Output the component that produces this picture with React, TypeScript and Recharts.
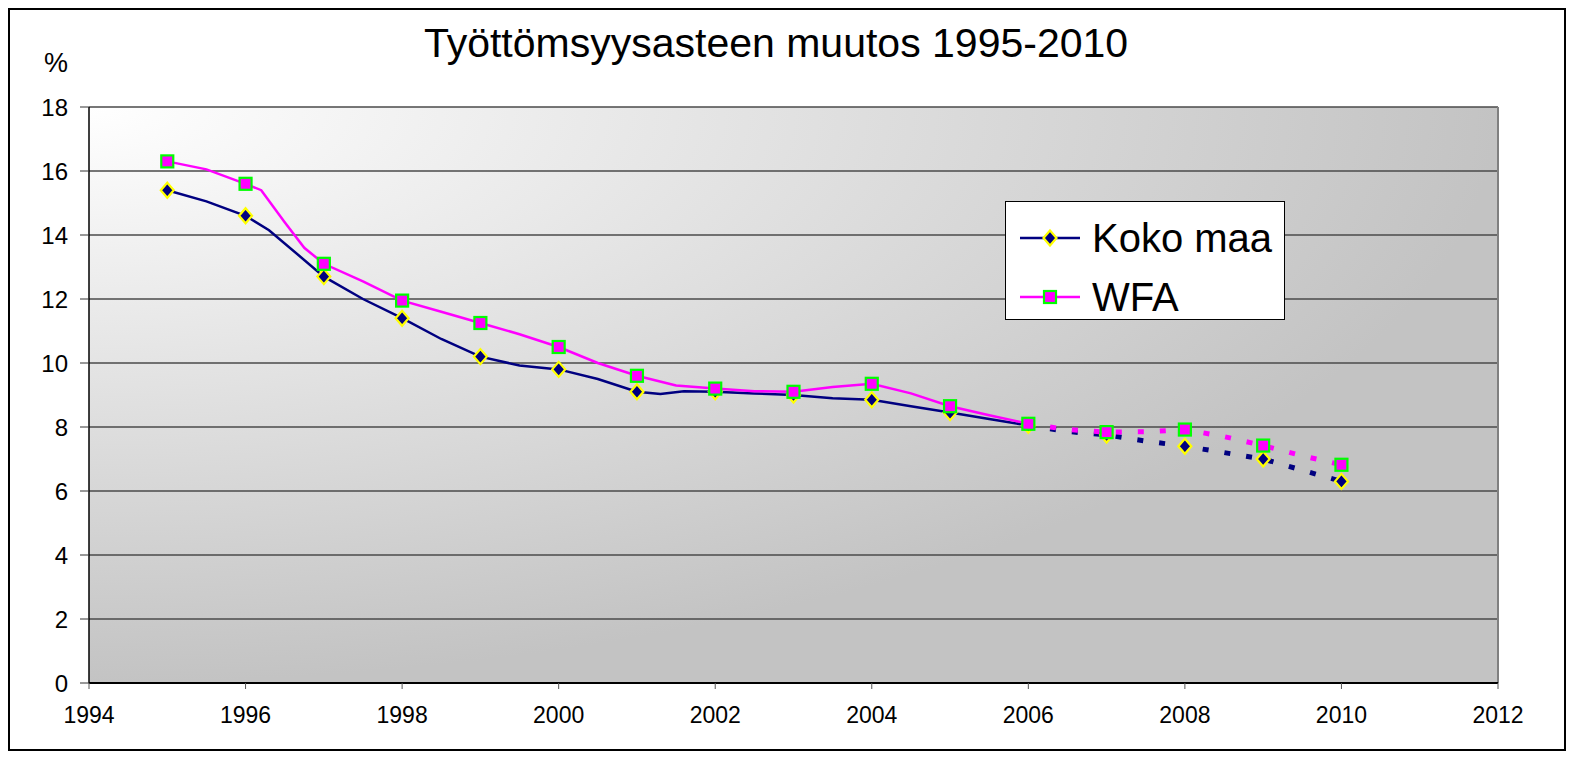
import React from "react";
import {
  ComposedChart,
  Line,
  Scatter,
  XAxis,
  YAxis,
  CartesianGrid,
  ReferenceLine,
} from "recharts";

const FONT = '"Liberation Sans", Arial, sans-serif';

// x ticks / y ticks
const yearTicks = [1994, 1996, 1998, 2000, 2002, 2004, 2006, 2008, 2010, 2012];
const pctTicks = [0, 2, 4, 6, 8, 10, 12, 14, 16, 18];

// Koko maa: half-year line points (solid up to 2006, dotted forecast after)
const kokoSolid = [
  { x: 1995, y: 15.4 }, { x: 1995.5, y: 15.05 }, { x: 1996, y: 14.6 },
  { x: 1996.3, y: 14.15 }, { x: 1997, y: 12.7 }, { x: 1997.5, y: 12.0 },
  { x: 1998, y: 11.4 }, { x: 1998.5, y: 10.75 }, { x: 1999, y: 10.2 },
  { x: 1999.5, y: 9.92 }, { x: 2000, y: 9.8 }, { x: 2000.5, y: 9.5 },
  { x: 2001, y: 9.1 }, { x: 2001.3, y: 9.03 }, { x: 2001.6, y: 9.12 },
  { x: 2002, y: 9.1 }, { x: 2002.5, y: 9.05 }, { x: 2003, y: 9.0 },
  { x: 2003.5, y: 8.9 }, { x: 2004, y: 8.85 }, { x: 2004.5, y: 8.65 },
  { x: 2005, y: 8.45 }, { x: 2005.5, y: 8.25 }, { x: 2006, y: 8.05 },
];
const kokoDash = [
  { x: 2006, y: 8.05 }, { x: 2006.5, y: 7.86 }, { x: 2007, y: 7.75 },
  { x: 2007.5, y: 7.56 }, { x: 2008, y: 7.4 }, { x: 2008.5, y: 7.2 },
  { x: 2009, y: 7.0 }, { x: 2009.5, y: 6.65 }, { x: 2010, y: 6.3 },
];
const kokoYears = [
  { x: 1995, y: 15.4 }, { x: 1996, y: 14.6 }, { x: 1997, y: 12.7 },
  { x: 1998, y: 11.4 }, { x: 1999, y: 10.2 }, { x: 2000, y: 9.8 },
  { x: 2001, y: 9.1 }, { x: 2002, y: 9.1 }, { x: 2003, y: 9.0 },
  { x: 2004, y: 8.85 }, { x: 2005, y: 8.45 }, { x: 2006, y: 8.05 },
  { x: 2007, y: 7.75 }, { x: 2008, y: 7.4 }, { x: 2009, y: 7.0 },
  { x: 2010, y: 6.3 },
];

// WFA
const wfaSolid = [
  { x: 1995, y: 16.3 }, { x: 1995.5, y: 16.05 }, { x: 1996, y: 15.6 },
  { x: 1996.2, y: 15.4 }, { x: 1996.5, y: 14.4 }, { x: 1996.75, y: 13.6 },
  { x: 1997, y: 13.1 }, { x: 1997.5, y: 12.55 }, { x: 1998, y: 11.95 },
  { x: 1998.5, y: 11.6 }, { x: 1999, y: 11.25 }, { x: 1999.5, y: 10.9 },
  { x: 2000, y: 10.5 }, { x: 2000.5, y: 10.0 }, { x: 2001, y: 9.6 },
  { x: 2001.5, y: 9.3 }, { x: 2002, y: 9.2 }, { x: 2002.5, y: 9.12 },
  { x: 2003, y: 9.1 }, { x: 2003.5, y: 9.25 }, { x: 2004, y: 9.35 },
  { x: 2004.5, y: 9.05 }, { x: 2005, y: 8.65 }, { x: 2005.5, y: 8.37 },
  { x: 2006, y: 8.1 },
];
const wfaDash = [
  { x: 2006, y: 8.1 }, { x: 2006.5, y: 7.92 }, { x: 2007, y: 7.84 },
  { x: 2007.5, y: 7.85 }, { x: 2008, y: 7.92 }, { x: 2008.5, y: 7.7 },
  { x: 2009, y: 7.42 }, { x: 2009.5, y: 7.1 }, { x: 2010, y: 6.82 },
];
const wfaYears = [
  { x: 1995, y: 16.3 }, { x: 1996, y: 15.6 }, { x: 1997, y: 13.1 },
  { x: 1998, y: 11.95 }, { x: 1999, y: 11.25 }, { x: 2000, y: 10.5 },
  { x: 2001, y: 9.6 }, { x: 2002, y: 9.2 }, { x: 2003, y: 9.1 },
  { x: 2004, y: 9.35 }, { x: 2005, y: 8.65 }, { x: 2006, y: 8.1 },
  { x: 2007, y: 7.84 }, { x: 2008, y: 7.92 }, { x: 2009, y: 7.42 },
  { x: 2010, y: 6.82 },
];

const seriesNames = ["Koko maa", "WFA"];

const NAVY = "#000080";
const MAGENTA = "#FF00FF";

const Diamond = (p: any) => {
  const { cx, cy } = p;
  if (cx == null || cy == null) return null;
  return (
    <path
      d={`M${cx},${cy - 7.5} L${cx + 6.5},${cy} L${cx},${cy + 7.5} L${cx - 6.5},${cy} Z`}
      fill={NAVY}
      stroke="#FFFF00"
      strokeWidth={2.2}
    />
  );
};

const Square = (p: any) => {
  const { cx, cy } = p;
  if (cx == null || cy == null) return null;
  return (
    <rect x={cx - 6} y={cy - 6} width={12} height={12} fill={MAGENTA} stroke="#00FF00" strokeWidth={2.2} />
  );
};

const LegendBox = () => (
  <div
    style={{
      position: "absolute",
      left: 995,
      top: 191,
      width: 280,
      height: 119,
      background: "#fff",
      border: "1px solid #000",
      boxSizing: "border-box",
      fontFamily: FONT,
      fontSize: 40,
      color: "#000",
    }}
  >
    {seriesNames.map((name, i) => (
      <div
        key={name}
        style={{ position: "absolute", left: 0, top: i === 0 ? 14 : 73, height: 44, display: "flex", alignItems: "center" }}
      >
        <svg width={86} height={44} style={{ display: "block" }}>
          <line x1={14} x2={74} y1={22} y2={22} stroke={i === 0 ? NAVY : MAGENTA} strokeWidth={2.5} />
          {i === 0 ? <Diamond cx={44} cy={22} /> : <Square cx={44} cy={22} />}
        </svg>
        <span style={{ lineHeight: 1 }}>{name}</span>
      </div>
    ))}
  </div>
);

export default function App() {
  return (
    <div
      style={{
        position: "relative",
        width: 1558,
        height: 743,
        border: "2px solid #000",
        boxSizing: "border-box",
        background: "#fff",
        fontFamily: FONT,
      }}
    >
      <div
        style={{
          position: "absolute",
          left: 0,
          width: 1532,
          top: 13,
          textAlign: "center",
          fontSize: 41,
          lineHeight: 1,
          color: "#000",
        }}
      >
        Työttömsyysasteen muutos 1995-2010
      </div>
      <div style={{ position: "absolute", left: 34, top: 40, fontSize: 27, lineHeight: 1, color: "#000" }}>%</div>
      <ComposedChart width={1554} height={739} margin={{ top: 97, right: 66, left: 0, bottom: 0 }}>
        <defs>
          <radialGradient id="plotBg" cx="0" cy="0" r="1" fx="0" fy="0">
            <stop offset="0%" stopColor="#FFFFFF" />
            <stop offset="100%" stopColor="#C3C3C3" />
          </radialGradient>
        </defs>
        <CartesianGrid vertical={false} stroke="#4a4a4a" strokeWidth={1.5} fill="url(#plotBg)" fillOpacity={1} />
        <XAxis
          type="number"
          dataKey="x"
          domain={[1994, 2012]}
          ticks={yearTicks}
          interval={0}
          height={66}
          tickSize={6}
          tickMargin={18}
          axisLine={{ stroke: "#000", strokeWidth: 2 }}
          tickLine={{ stroke: "#555" }}
          tick={{ fill: "#000", fontSize: 23, fontFamily: FONT }}
          allowDataOverflow
        />
        <YAxis
          type="number"
          domain={[0, 18]}
          ticks={pctTicks}
          interval={0}
          width={79}
          tickSize={9}
          tickMargin={12}
          axisLine={{ stroke: "#000", strokeWidth: 1.5 }}
          tickLine={{ stroke: "#333" }}
          tick={{ fill: "#000", fontSize: 24, fontFamily: FONT }}
        />
        <ReferenceLine x={2012} stroke="#808080" strokeWidth={2} />
        <Line data={kokoSolid} dataKey="y" type="linear" stroke={NAVY} strokeWidth={2.5} dot={false} isAnimationActive={false} legendType="none" />
        <Line data={wfaSolid} dataKey="y" type="linear" stroke={MAGENTA} strokeWidth={2.5} dot={false} isAnimationActive={false} legendType="none" />
        <Line data={kokoDash} dataKey="y" type="linear" stroke={NAVY} strokeWidth={5} strokeDasharray="6 16" dot={false} isAnimationActive={false} legendType="none" />
        <Line data={wfaDash} dataKey="y" type="linear" stroke={MAGENTA} strokeWidth={5} strokeDasharray="6 16" dot={false} isAnimationActive={false} legendType="none" />
        <Scatter data={kokoYears} dataKey="y" shape={Diamond} isAnimationActive={false} legendType="none" />
        <Scatter data={wfaYears} dataKey="y" shape={Square} isAnimationActive={false} legendType="none" />
      </ComposedChart>
      <LegendBox />
    </div>
  );
}
